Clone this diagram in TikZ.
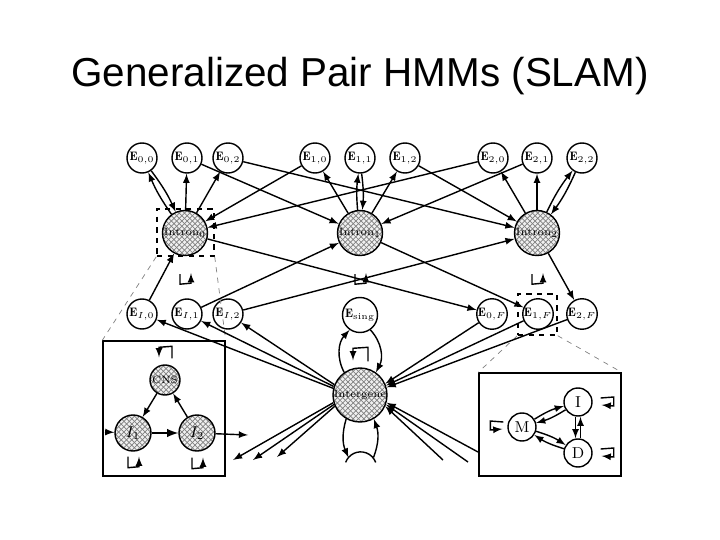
\documentclass[tikz,border=0pt]{standalone}
\usepackage{amsmath}
\usepackage{fontspec}
\newfontfamily\titolo{Liberation Sans}
\usepackage{tikz}
\usetikzlibrary{patterns}
\usetikzlibrary{shapes,positioning,calc}
\usetikzlibrary{arrows.meta}
\tikzstyle{esone} = [circle, minimum size=0.6cm, inner sep=0pt, draw=black, thick, font=\fontsize{7}{8}\selectfont]
\tikzstyle{nascosto} = [circle, minimum size=0.9cm, inner sep=0pt, draw=black, thick, font=\fontsize{6}{7}\selectfont,
preaction={fill=gray!12}, preaction={pattern=north east lines, pattern color=gray}, pattern=north west lines, pattern color=gray]
\tikzstyle{stato} = [circle, minimum size=0.56cm, inner sep=0pt, draw=black, thick, font=\small]
\tikzstyle{riquadro} = [rectangle, draw=black, thick, dashed, inner sep=0pt]
\tikzstyle{lente} = [gray, dashed, thin]
\tikzstyle{arrow} = [thick,->,>=latex]

\begin{document}
\begin{tikzpicture}
\useasboundingbox (0,0) rectangle (14.4,-10.8);
\node (titolo) at (7.2,-1.52) {\titolo\fontsize{23}{27}\selectfont Generalized Pair HMMs (SLAM)};
% esoni in alto
\node (e00) at (2.84,-3.16) [esone] {$\mathbf{E}_{0,0}$};
\node (e01) at (3.74,-3.16) [esone] {$\mathbf{E}_{0,1}$};
\node (e02) at (4.56,-3.16) [esone] {$\mathbf{E}_{0,2}$};
\node (e10) at (6.30,-3.16) [esone] {$\mathbf{E}_{1,0}$};
\node (e11) at (7.20,-3.16) [esone] {$\mathbf{E}_{1,1}$};
\node (e12) at (8.10,-3.16) [esone] {$\mathbf{E}_{1,2}$};
\node (e20) at (9.86,-3.16) [esone] {$\mathbf{E}_{2,0}$};
\node (e21) at (10.74,-3.16) [esone] {$\mathbf{E}_{2,1}$};
\node (e22) at (11.64,-3.16) [esone] {$\mathbf{E}_{2,2}$};
% introni
\node (i0) at (3.70,-4.66) [nascosto] {Intron$_0$};
\node (i1) at (7.20,-4.66) [nascosto] {Intron$_1$};
\node (i2) at (10.74,-4.66) [nascosto] {Intron$_2$};
% esoni in basso
\node (ei0) at (2.84,-6.28) [esone] {$\mathbf{E}_{I,0}$};
\node (ei1) at (3.74,-6.28) [esone] {$\mathbf{E}_{I,1}$};
\node (ei2) at (4.56,-6.28) [esone] {$\mathbf{E}_{I,2}$};
\node (es) at (7.20,-6.30) [esone, minimum size=0.7cm] {$\mathbf{E}_{\mathrm{sing}}$};
\node (e0f) at (9.84,-6.28) [esone] {$\mathbf{E}_{0,F}$};
\node (e1f) at (10.76,-6.28) [esone] {$\mathbf{E}_{1,F}$};
\node (e2f) at (11.64,-6.28) [esone] {$\mathbf{E}_{2,F}$};
\node (ig) at (7.20,-7.90) [nascosto, minimum size=1.08cm] {Intergene};
\node (gn) at (7.22,-9.36) [circle, minimum size=0.64cm, inner sep=0pt] {};
% riquadri
\node (box0) at (3.71,-4.65) [riquadro, minimum width=1.14cm, minimum height=0.94cm] {};
\node (box1) at (10.75,-6.29) [riquadro, minimum width=0.78cm, minimum height=0.82cm] {};
\node (ins1) at (3.28,-8.17) [rectangle, draw=black, thick, minimum width=2.44cm, minimum height=2.70cm] {};
\node (ins2) at (11.00,-8.49) [rectangle, draw=black, thick, minimum width=2.84cm, minimum height=2.06cm] {};
\draw[lente] (box0.south west) -- (ins1.north west);
\draw[lente] (box0.south east) -- (ins1.north east);
\draw[lente] (box1.south west) -- (ins2.north west);
\draw[lente] (box1.south east) -- (ins2.north east);
% dentro i riquadri
\node (cns) at (3.30,-7.60) [nascosto, minimum size=0.6cm] {CNS};
\node (ii1) at (2.66,-8.66) [nascosto, minimum size=0.72cm, font=\small] {$I_1$};
\node (ii2) at (3.94,-8.66) [nascosto, minimum size=0.72cm, font=\small] {$I_2$};
\coordinate (ingresso) at (2.10,-8.64);
\coordinate (uscita) at (4.96,-8.70);
\node (m) at (10.44,-8.54) [stato] {M};
\node (ni) at (11.56,-8.04) [stato] {I};
\node (nd) at (11.56,-9.06) [stato] {D};

% introni <-> esoni
\draw[arrow] (i0) to[bend left=6] (e00);
\draw[arrow] (e00) to[bend left=6] (i0);
\draw[arrow] (i0) -- (e01);
\draw[arrow] (i0) -- (e02);
\draw[arrow] (i1) -- (e10);
\draw[arrow] (i1) to[bend left=6] (e11);
\draw[arrow] (e11) to[bend left=6] (i1);
\draw[arrow] (i1) -- (e12);
\draw[arrow] (i2) -- (e20);
\draw[arrow] (i2) -- (e21);
\draw[arrow] (i2) to[bend left=6] (e22);
\draw[arrow] (e22) to[bend left=6] (i2);
\draw[arrow] (e10) -- (i0);
\draw[arrow] (e20) -- (i0);
\draw[arrow] (e01) -- (i1);
\draw[arrow] (e21) -- (i1);
\draw[arrow] (e02) -- (i2);
\draw[arrow] (e12) -- (i2);
\draw[arrow] (i0) -- (e0f);
\draw[arrow] (i1) -- (e1f);
\draw[arrow] (i2) -- (e2f);
\draw[arrow] (ei0) -- (i0);
\draw[arrow] (ei1) -- (i1);
\draw[arrow] (ei2) -- (i2);
% intergene
\draw[arrow] (ig.166) -- (ei0);
\draw[arrow] (ig.162) -- (ei1);
\draw[arrow] (ig.158) -- (ei2);
\draw[arrow] (ig) to[bend left=35] (es);
\draw[arrow] (es) to[bend left=35] (ig);
\draw[arrow] (e0f) -- (ig.24);
\draw[arrow] (e1f) -- (ig.20);
\draw[arrow] (e2f) -- (ig.16);
\coordinate (sx1) at (4.66,-9.20);
\coordinate (sx2) at (5.06,-9.20);
\coordinate (sx3) at (5.54,-9.14);
\draw[arrow] (ig.196) -- (sx1);
\draw[arrow] (ig.200) -- (sx2);
\draw[arrow] (ig.204) -- (sx3);
\coordinate (dx1) at (8.86,-9.20);
\coordinate (dx2) at (9.36,-9.24);
\coordinate (dx3) at (9.56,-9.04);
\draw[arrow] (dx1) -- (ig.336);
\draw[arrow] (dx2) -- (ig.340);
\draw[arrow] (dx3) -- (ig.344);
\draw[thick] (gn.160) arc[start angle=160, end angle=20, radius=0.32cm];
\draw[arrow] (ig.240) to[bend right=20] (gn.140);
\draw[arrow] (gn.40) to[bend right=20] (ig.300);
% anelli
\draw[arrow] ([shift={(-0.1,-0.36)}]i0.south) -- ++(0,-0.2) -- ++(0.22,0.02) -- ++(0,0.2);
\draw[arrow] ([shift={(-0.1,-0.36)}]i1.south) -- ++(0,-0.2) -- ++(0.22,0.02) -- ++(0,0.2);
\draw[arrow] ([shift={(-0.1,-0.36)}]i2.south) -- ++(0,-0.2) -- ++(0.22,0.02) -- ++(0,0.2);
\draw[arrow] ([shift={(0.16,0.12)}]ig.north) -- ++(0,0.28) -- ++(-0.3,-0.02) -- ++(0,-0.24);
\draw[arrow] ([shift={(0.14,0.12)}]cns.north) -- ++(0,0.24) -- ++(-0.26,-0.02) -- ++(0,-0.2);
\draw[arrow] ([shift={(-0.1,-0.1)}]ii1.south) -- ++(0,-0.22) -- ++(0.22,0.02) -- ++(0,0.2);
\draw[arrow] ([shift={(-0.1,-0.12)}]ii2.south) -- ++(0,-0.22) -- ++(0.22,0.02) -- ++(0,0.2);
\draw[arrow] ([shift={(-0.08,0.1)}]m.west) -- ++(-0.26,0.02) -- ++(0,-0.18) -- ++(0.24,0.02);
\draw[arrow] ([shift={(0.16,0.08)}]ni.east) -- ++(0.26,0.02) -- ++(0,-0.18) -- ++(-0.24,0.02);
\draw[arrow] ([shift={(0.16,0.08)}]nd.east) -- ++(0.26,0.02) -- ++(0,-0.18) -- ++(-0.24,0.02);
% riquadro sinistro
\draw[arrow] (ingresso) -- (ii1);
\draw[arrow] (ii2) -- (uscita);
\draw[arrow] (cns) -- (ii1);
\draw[arrow] (ii2) -- (cns);
\draw[arrow, very thick] (ii1) -- (ii2);
% riquadro destro
\draw[arrow] (m) to[bend left=8] (ni);
\draw[arrow] (ni) to[bend left=8] (m);
\draw[arrow] (m) to[bend left=8] (nd);
\draw[arrow] (nd) to[bend left=8] (m);
\draw[arrow] ([xshift=-0.05cm]ni.south) -- ([xshift=-0.05cm]nd.north);
\draw[arrow] ([xshift=0.05cm]nd.north) -- ([xshift=0.05cm]ni.south);
\end{tikzpicture}
\end{document}
